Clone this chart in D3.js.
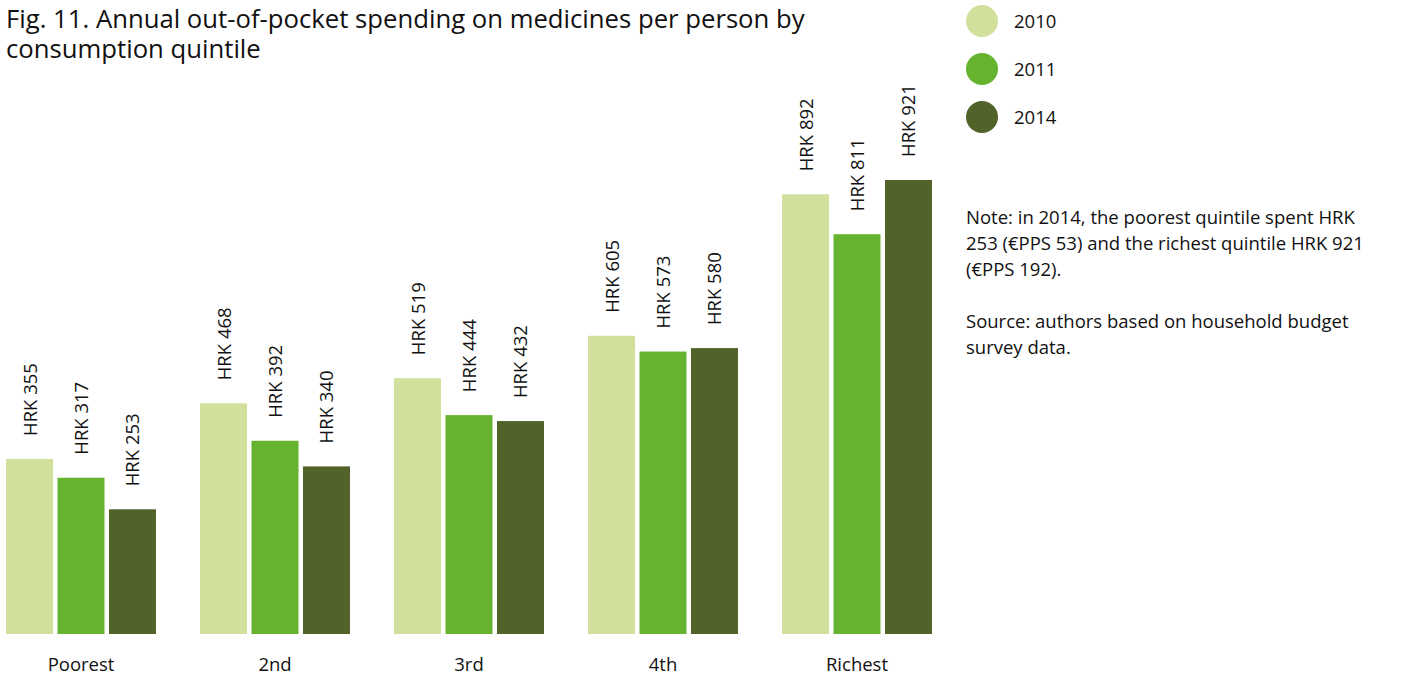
<!DOCTYPE html>
<html>
  <head>
    <meta charset="utf-8">
    <script src="https://d3js.org/d3.v7.min.js"></script>
    <title>Out-of-pocket spending on medicines</title>
    <style>
      body { margin: 0; background: #fff; }
      text { font-family: "Open Sans", "Noto Sans", sans-serif; fill: #111; }
    </style>
  </head>
  <body>
    <svg width="1403" height="675"></svg>
    <script>
      // Data
      const quintiles = ['Poorest', '2nd', '3rd', '4th', 'Richest'];
      const years = ['2010', '2011', '2014'];
      const values2010 = [355, 468, 519, 605, 892];
      const values2011 = [317, 392, 444, 573, 811];
      const values2014 = [253, 340, 432, 580, 921];
      const colors = ['#d1e09c', '#66b32f', '#52632a'];
      const noteLines = [
        'Note: in 2014, the poorest quintile spent HRK',
        '253 (€PPS 53) and the richest quintile HRK 921',
        '(€PPS 192).',
        '',
        'Source: authors based on household budget',
        'survey data.'
      ];

      const series = [values2010, values2011, values2014];
      const data = quintiles.map((q, i) => ({
        quintile: q,
        values: years.map((y, j) => ({ year: y, value: series[j][i], color: colors[j] }))
      }));

      const svg = d3.select('svg');

      // Scales
      const x0 = d3.scaleBand()
        .domain(quintiles)
        .range([6, 932])
        .paddingInner(44 / 194)
        .paddingOuter(0);
      const x1 = d3.scaleBand()
        .domain(years)
        .range([0, x0.bandwidth()])
        .paddingInner(0.087);
      const y = d3.scaleLinear()
        .domain([0, 921])
        .range([634, 180]);

      // Title
      const title = svg.append('text')
        .attr('x', 6)
        .attr('y', 28)
        .style('font-size', '25.7px');
      title.append('tspan').attr('x', 6).text('Fig. 11. Annual out-of-pocket spending on medicines per person by');
      title.append('tspan').attr('x', 6).attr('dy', 30).text('consumption quintile');

      // Bars
      const groups = svg.selectAll('g.group').data(data)
        .enter().append('g')
          .attr('class', 'group')
          .attr('transform', d => `translate(${x0(d.quintile)},0)`);

      groups.selectAll('rect').data(d => d.values)
        .enter().append('rect')
          .attr('x', d => x1(d.year))
          .attr('y', d => y(d.value))
          .attr('width', x1.bandwidth())
          .attr('height', d => y(0) - y(d.value))
          .attr('fill', d => d.color);

      // Value labels, rotated
      groups.selectAll('text.val').data(d => d.values)
        .enter().append('text')
          .attr('class', 'val')
          .attr('transform', d => `translate(${x1(d.year) + x1.bandwidth() / 2 + 7},${y(d.value) - 23}) rotate(-90)`)
          .style('font-size', '18.5px')
          .text(d => 'HRK ' + d.value);

      // Category labels
      svg.selectAll('text.cat').data(quintiles)
        .enter().append('text')
          .attr('class', 'cat')
          .attr('x', d => x0(d) + x0.bandwidth() / 2)
          .attr('y', 671)
          .attr('text-anchor', 'middle')
          .style('font-size', '18.5px')
          .text(d => d);

      // Legend
      const legend = svg.selectAll('g.legend').data(years)
        .enter().append('g')
          .attr('class', 'legend')
          .attr('transform', (d, i) => `translate(982,${21 + i * 48})`);
      legend.append('circle')
        .attr('r', 16)
        .attr('fill', (d, i) => colors[i]);
      legend.append('text')
        .attr('x', 32)
        .attr('y', 7)
        .style('font-size', '18.5px')
        .text(d => d);

      // Note
      svg.selectAll('text.note').data(noteLines)
        .enter().append('text')
          .attr('class', 'note')
          .attr('x', 966)
          .attr('y', (d, i) => 224 + i * 26)
          .style('font-size', '18.5px')
          .text(d => d);
    </script>
  </body>
</html>
